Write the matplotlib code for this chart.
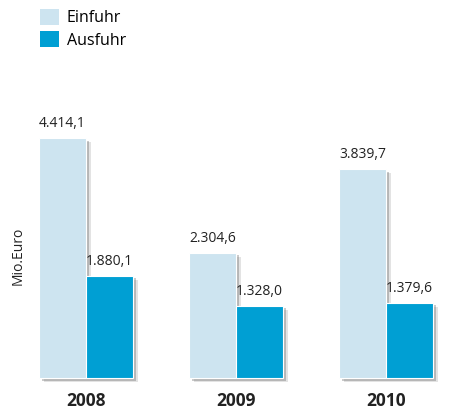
import matplotlib
matplotlib.use("Agg")
import matplotlib.pyplot as plt
import matplotlib.patheffects as pe
import numpy as np

years = ["2008", "2009", "2010"]
einfuhr = [4414.1, 2304.6, 3839.7]
ausfuhr = [1880.1, 1328.0, 1379.6]
series_names = ["Einfuhr", "Ausfuhr"]

def fmt(v):
    s = f"{v:,.1f}"
    return s.replace(",", "X").replace(".", ",").replace("X", ".")

plt.rcParams['font.family'] = ['Open Sans', 'DejaVu Sans']

fig = plt.figure(figsize=(4.51, 4.12), dpi=100)
ax = fig.add_axes([0, 34/412, 1, 1 - 34/412 - 0.26])
pxu = 240 / 4414.1
top_val = (412 - 34 - 0.26 * 412) / pxu
ax.set_ylim(0, top_val)
ax.set_xlim(-86/150, (451-86)/150)

x = np.arange(len(years))
w = 47/150
shadow = [pe.SimplePatchShadow(offset=(3.5, -3), shadow_rgbFace='#444444', alpha=0.15),
          pe.SimplePatchShadow(offset=(2, -1.8), shadow_rgbFace='#444444', alpha=0.28),
          pe.Normal()]
b1 = ax.bar(x - w/2, einfuhr, w, color='#cde4f0', edgecolor='white', linewidth=0.8,
            label=series_names[0], zorder=2)
b2 = ax.bar(x + w/2, ausfuhr, w, color='#009fd3', edgecolor='white', linewidth=0.8,
            label=series_names[1], zorder=3)
for b in list(b1) + list(b2):
    b.set_path_effects(shadow)
    b.set_clip_on(False)

for xi, v in zip(x - w/2, einfuhr):
    ax.annotate(fmt(v), (xi, v), xytext=(0, 5), textcoords='offset points',
                ha='center', va='bottom', fontsize=10, color='#222222')
for xi, v in zip(x + w/2, ausfuhr):
    ax.annotate(fmt(v), (xi, v), xytext=(0, 5), textcoords='offset points',
                ha='center', va='bottom', fontsize=10, color='#222222')

ax.set_xticks(x)
ax.set_xticklabels(years, fontsize=12.5, fontweight='bold', color='#222222')
ax.tick_params(axis='x', length=0, pad=10)
ax.set_yticks([])
for s in ax.spines.values():
    s.set_visible(False)

fig.text(18/451, 1 - 256/412, "Mio.Euro", rotation=90, ha='center', va='center',
         fontsize=10, color='#222222')

leg = fig.legend(handles=[b1, b2], labels=series_names, loc='upper left',
                 bbox_to_anchor=(0.065, 1.005), frameon=False, fontsize=11.5,
                 handlelength=1.15, handleheight=1.15, handletextpad=0.5,
                 labelspacing=0.3, borderaxespad=0.3)
for h in leg.legend_handles:
    h.set_path_effects([pe.Normal()])
    h.set_edgecolor('none')

fig.savefig("out.png", dpi=100)
